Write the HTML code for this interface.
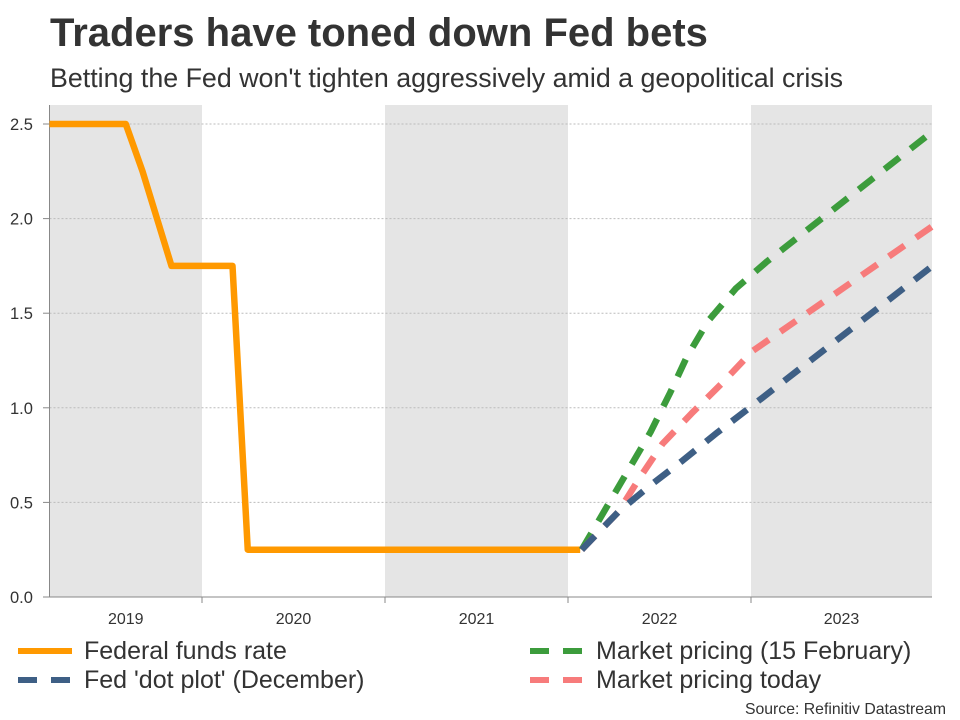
<!DOCTYPE html>
<html><head><meta charset="utf-8"><style>
body{margin:0;width:960px;height:720px;background:#fff;font-family:"Liberation Sans",Arial,sans-serif;overflow:hidden}
svg{display:block}
</style></head><body>
<svg id="c" width="960" height="720">
<text x="50" y="46" font-size="40" font-weight="bold" fill="#333">Traders have toned down Fed bets</text>
<text x="50" y="87" font-size="26.8" fill="#333">Betting the Fed won't tighten aggressively amid a geopolitical crisis</text>
<g id="bands"></g><g id="grid"></g><g id="axes"></g><g id="series"></g>
<g>
<line x1="18" y1="651" x2="72" y2="651" stroke="#ff9900" stroke-width="6"/>
<text x="84" y="659" font-size="25" fill="#333">Federal funds rate</text>
<line x1="18" y1="680" x2="72" y2="680" stroke="#3e5f85" stroke-width="6" stroke-dasharray="19,14"/>
<text x="84" y="688" font-size="25" fill="#333">Fed 'dot plot' (December)</text>
<line x1="530" y1="651" x2="584" y2="651" stroke="#3c9c3c" stroke-width="6" stroke-dasharray="19,14"/>
<text x="596" y="659" font-size="25" fill="#333">Market pricing (15 February)</text>
<line x1="530" y1="680" x2="584" y2="680" stroke="#f77b7b" stroke-width="6" stroke-dasharray="19,14"/>
<text x="596" y="688" font-size="25" fill="#333">Market pricing today</text>
</g>
<text x="946" y="714" font-size="15.8" fill="#333" text-anchor="end">Source: Refinitiv Datastream</text>
</svg>
<script>
// months since Jan 2019
const years=["2019","2020","2021","2022","2023"];
const yTicks=[0,0.5,1.0,1.5,2.0,2.5];
const fedM=[2.0,7.0,8.1,10.0,14.0,15.0,36.8];
const fedV=[2.5,2.5,2.25,1.75,1.75,0.25,0.25];
const febM=[36.9,41.4,42.7,43.8,45.2,47.0,49.0,59.9];
const febV=[0.25,0.87,1.08,1.27,1.46,1.63,1.77,2.46];
const todayM=[36.9,39.3,40.7,42.2,44.1,46.1,48.1,59.9];
const todayV=[0.25,0.45,0.63,0.81,0.97,1.13,1.30,1.96];
const dotM=[36.9,39.3,41.4,43.5,45.8,47.9,59.9];
const dotV=[0.25,0.45,0.59,0.72,0.87,1.0,1.75];
const NS="http://www.w3.org/2000/svg";
const L=49.5,R=932,B=597;
const x=m=>202+(m-12)*15.25;
const y=v=>B-v*189.2;
function mk(t,a,p){const e=document.createElementNS(NS,t);for(const k in a)e.setAttribute(k,a[k]);document.getElementById(p).appendChild(e);return e;}
years.forEach((yr,i)=>{
  const x0=Math.max(L,x(i*12)),x1=Math.min(R,x(i*12+12));
  if(i%2==0){const r=mk('rect',{x:x0,y:105,width:x1-x0,height:B-105,fill:'#e5e5e5'},'bands');
    
    }
  const t=mk('text',{x:(x0+x1)/2,y:624,'font-size':16,fill:'#333','text-anchor':'middle'},'axes');t.textContent=yr;
  
  
  if(i<4){const tk=mk('line',{x1:x1,x2:x1,y1:B,y2:603,stroke:'#888'},'axes');
    
    }
});
yTicks.forEach(v=>{
  const g=mk('line',{x1:L,x2:R,y1:y(v),y2:y(v),stroke:'#bbb','stroke-dasharray':'2,2'},'grid');
  
  
  const tk=mk('line',{x1:43,x2:L,y1:y(v),y2:y(v),stroke:'#888'},'axes');
  
  
  const t=mk('text',{x:10,y:y(v)+6,'font-size':16.5,fill:'#333'},'axes');t.textContent=v.toFixed(1);
  
  
});
const ax=mk('line',{x1:L,x2:L,y1:105,y2:B,stroke:'#888'},'axes');


const bx=mk('line',{x1:L,x2:R,y1:B,y2:B,stroke:'#888'},'axes');


function line(ms,vs,col,dash,name){
  const p=mk('polyline',{points:ms.map((m,i)=>x(m)+','+y(vs[i])).join(' '),fill:'none',stroke:col,'stroke-width':6.5,'stroke-linejoin':'round'},'series');
  if(dash)p.setAttribute('stroke-dasharray','19,14');
  
  
}
line(fedM,fedV,'#ff9900',false,'fed-funds-line');
line(febM,febV,'#3c9c3c',true,'market-feb-line');
line(todayM,todayV,'#f77b7b',true,'market-today-line');
line(dotM,dotV,'#3e5f85',true,'dot-plot-line');
</script>
</body></html>
